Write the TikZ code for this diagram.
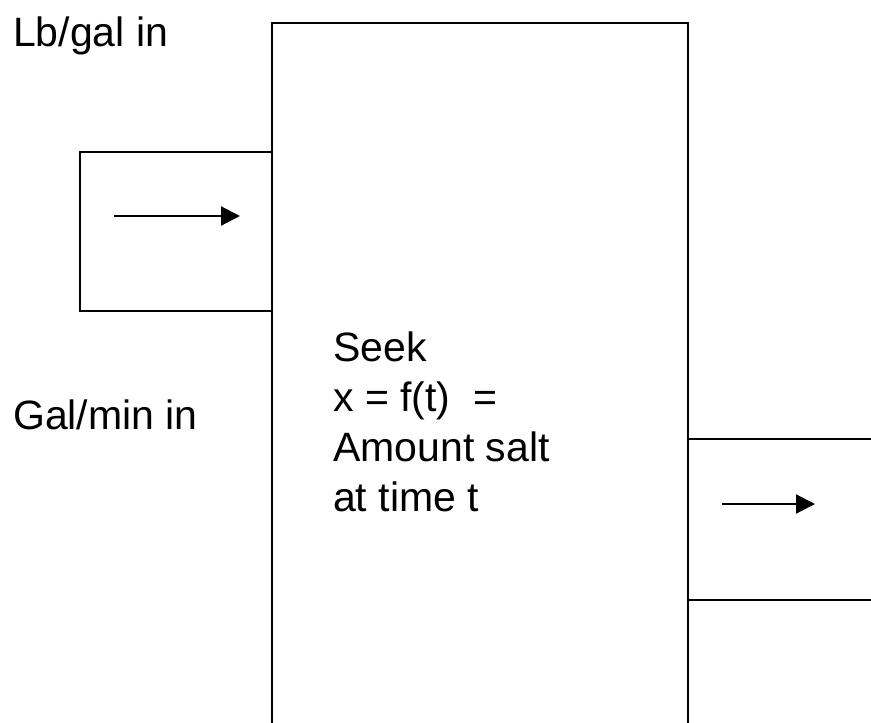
\documentclass[tikz,border=0pt]{standalone}
\usepackage{fontspec}
\setmainfont{Liberation Sans}
\usetikzlibrary{arrows.meta}
\tikzset{
  wall/.style={line width=2.2pt, line cap=rect, line join=miter},
  flow/.style={line width=2.2pt, -{Triangle[length=19pt,width=19pt]}},
  label/.style={anchor=base west, inner sep=0pt, font=\fontsize{41}{50}\selectfont},
}
\begin{document}
\begin{tikzpicture}[x=1pt, y=-1pt]
  \useasboundingbox (0,0) rectangle (871,723);
  % tank, open at the bottom edge
  \draw[wall] (272,723) -- (272,23) -- (688,23) -- (688,723);
  % inflow pipe
  \draw[wall] (272,152) -- (80,152) -- (80,311) -- (272,311);
  % outflow pipe
  \draw[wall] (871,439) -- (688,439);
  \draw[wall] (871,600) -- (688,600);
  % flow directions
  \coordinate (inA) at (114,216);
  \coordinate (inB) at (240,216);
  \coordinate (outA) at (722,504);
  \coordinate (outB) at (815,504);
  \draw[flow] (inA) -- (inB);
  \draw[flow] (outA) -- (outB);
  % labels
  \node[label] (conc) at (13,46) {Lb/gal in};
  \node[label] (rate) at (13,429) {Gal/min in};
  \node[label] (l1) at (333,361) {Seek};
  \node[label] (l2) at (333,411) {x = f(t) \ =};
  \node[label] (l3) at (333,461) {Amount salt};
  \node[label] (l4) at (333,511) {at time t};
\end{tikzpicture}
\end{document}
